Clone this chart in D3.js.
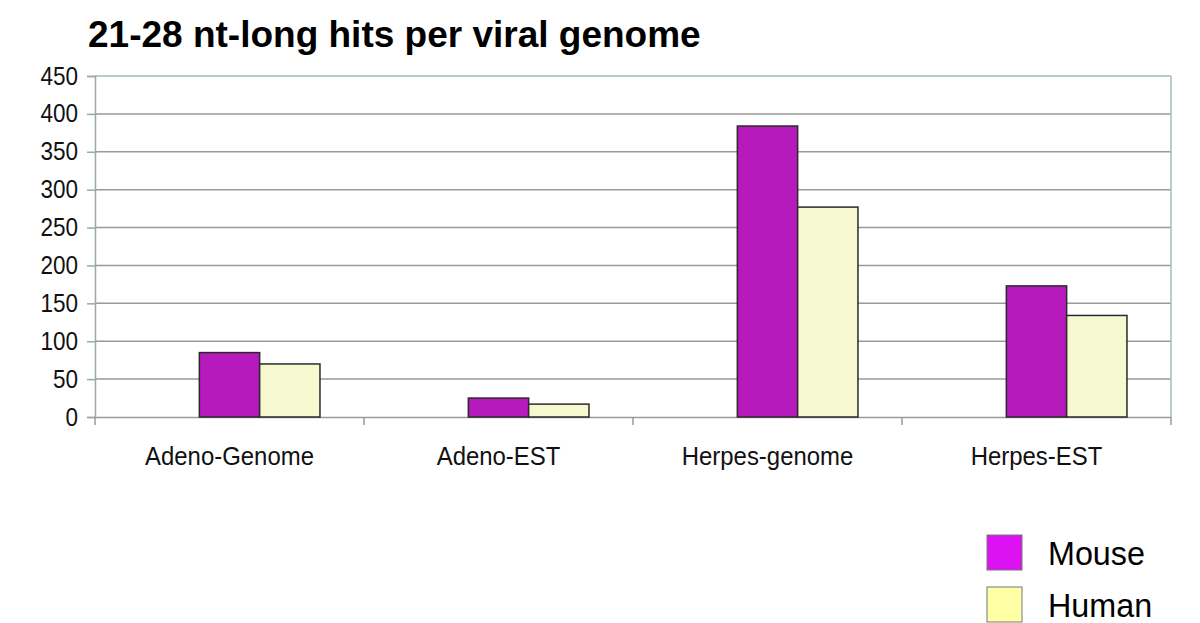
<!DOCTYPE html>
<html lang="en">
<head>
    <meta charset="UTF-8">
    <title>21-28 nt-long hits per viral genome</title>
    <script src="https://d3js.org/d3.v7.min.js"></script>
    <style>
        body {
            margin: 0;
            background: #fff;
            font-family: "Liberation Sans", Arial, sans-serif;
        }
        .tick-label {
            font-size: 25px;
            fill: #111;
        }
        .cat-label {
            font-size: 26px;
            fill: #111;
        }
    </style>
</head>
<body>
    <svg width="1200" height="623"></svg>

    <script>
        // Chart data
        const categories = ["Adeno-Genome", "Adeno-EST", "Herpes-genome", "Herpes-EST"];
        const mouseValues = [85, 25, 384, 173];
        const humanValues = [70, 17, 277, 134];
        // first slot of each group is an empty series in the original chart
        const slots = ["empty", "Mouse", "Human"];
        const legendNames = ["Mouse", "Human"];
        const yTicks = [0, 50, 100, 150, 200, 250, 300, 350, 400, 450];

        const plot = {left: 95, right: 1171, top: 76, bottom: 417};

        const svg = d3.select("svg");

        const x0 = d3.scaleBand()
            .domain(categories)
            .range([plot.left, plot.right])
            .padding(0);

        const x1 = d3.scaleBand()
            .domain(slots)
            .range([0, x0.bandwidth()])
            .paddingInner(0)
            .paddingOuter(0.73);

        const y = d3.scaleLinear()
            .domain([0, 450])
            .range([plot.bottom, plot.top]);

        const barFill = {Mouse: "#b61abd", Human: "#f6f8d0"};
        const legendFill = {Mouse: "#dc12f2", Human: "#ffffa6"};

        // squeeze text horizontally, the original labels are narrow
        function squeeze(sel, k) {
            sel.each(function() {
                const w = this.getComputedTextLength();
                d3.select(this)
                    .attr("textLength", w * k)
                    .attr("lengthAdjust", "spacingAndGlyphs");
            });
        }

        // Title
        svg.append("text")
            .attr("x", 88)
            .attr("y", 47)
            .attr("font-size", 37)
            .attr("font-weight", "bold")
            .attr("fill", "#000")
            .text("21-28 nt-long hits per viral genome");

        // Gridlines
        svg.append("g")
            .selectAll("line")
            .data(yTicks.filter(d => d > 0))
            .join("line")
            .attr("x1", plot.left)
            .attr("x2", plot.right)
            .attr("y1", d => y(d))
            .attr("y2", d => y(d))
            .attr("stroke", d => d === 450 ? "#9dbcbc" : "#9a9a9a")
            .attr("stroke-width", 1.5);

        // Right frame
        svg.append("line")
            .attr("x1", plot.right).attr("x2", plot.right)
            .attr("y1", plot.top).attr("y2", plot.bottom)
            .attr("stroke", "#9dbcbc")
            .attr("stroke-width", 1.5);

        // Y axis
        const yAxis = svg.append("g")
            .attr("transform", `translate(${plot.left},0)`)
            .call(d3.axisLeft(y).tickValues(yTicks).tickSize(8).tickPadding(9));
        yAxis.select(".domain").attr("stroke", "#9aa8a8").attr("stroke-width", 1.5);
        yAxis.selectAll(".tick line").attr("stroke", "#9aa8a8").attr("stroke-width", 1.5);
        yAxis.selectAll(".tick text")
            .attr("class", "tick-label")
            .attr("font-family", null)
            .attr("font-size", null)
            .call(squeeze, 0.9);

        // X axis
        const xAxis = svg.append("g")
            .attr("transform", `translate(0,${plot.bottom})`)
            .call(d3.axisBottom(x0).tickSize(0).tickPadding(30));
        xAxis.select(".domain").attr("stroke", "#9a9a9a").attr("stroke-width", 1.5);
        xAxis.selectAll(".tick text")
            .attr("class", "cat-label")
            .attr("font-family", null)
            .attr("font-size", null)
            .call(squeeze, 0.92);

        // category separator ticks
        svg.append("g")
            .selectAll("line")
            .data(d3.range(categories.length + 1))
            .join("line")
            .attr("x1", i => plot.left + i * x0.step())
            .attr("x2", i => plot.left + i * x0.step())
            .attr("y1", plot.bottom)
            .attr("y2", plot.bottom + 8)
            .attr("stroke", "#9a9a9a")
            .attr("stroke-width", 1.5);

        // Bars
        const rows = categories.map((c, i) => ({cat: c, Mouse: mouseValues[i], Human: humanValues[i]}));

        svg.append("g")
            .selectAll("g")
            .data(rows)
            .join("g")
            .attr("transform", d => `translate(${x0(d.cat)},0)`)
            .selectAll("rect")
            .data(d => legendNames.map(k => ({key: k, value: d[k]})))
            .join("rect")
            .attr("x", d => x1(d.key))
            .attr("y", d => y(d.value))
            .attr("width", x1.bandwidth())
            .attr("height", d => y(0) - y(d.value))
            .attr("fill", d => barFill[d.key])
            .attr("stroke", "#2a2a2a")
            .attr("stroke-width", 1.5);

        // Legend
        const legend = svg.append("g")
            .selectAll("g")
            .data(legendNames)
            .join("g")
            .attr("transform", (d, i) => `translate(987,${535 + i * 52})`);

        legend.append("rect")
            .attr("width", 35)
            .attr("height", 35)
            .attr("fill", d => legendFill[d])
            .attr("stroke", "#777")
            .attr("stroke-width", 1);

        legend.append("text")
            .attr("x", 61)
            .attr("y", 30)
            .attr("font-size", 34)
            .attr("fill", "#000")
            .text(d => d)
            .call(squeeze, 0.95);
    </script>
</body>
</html>
